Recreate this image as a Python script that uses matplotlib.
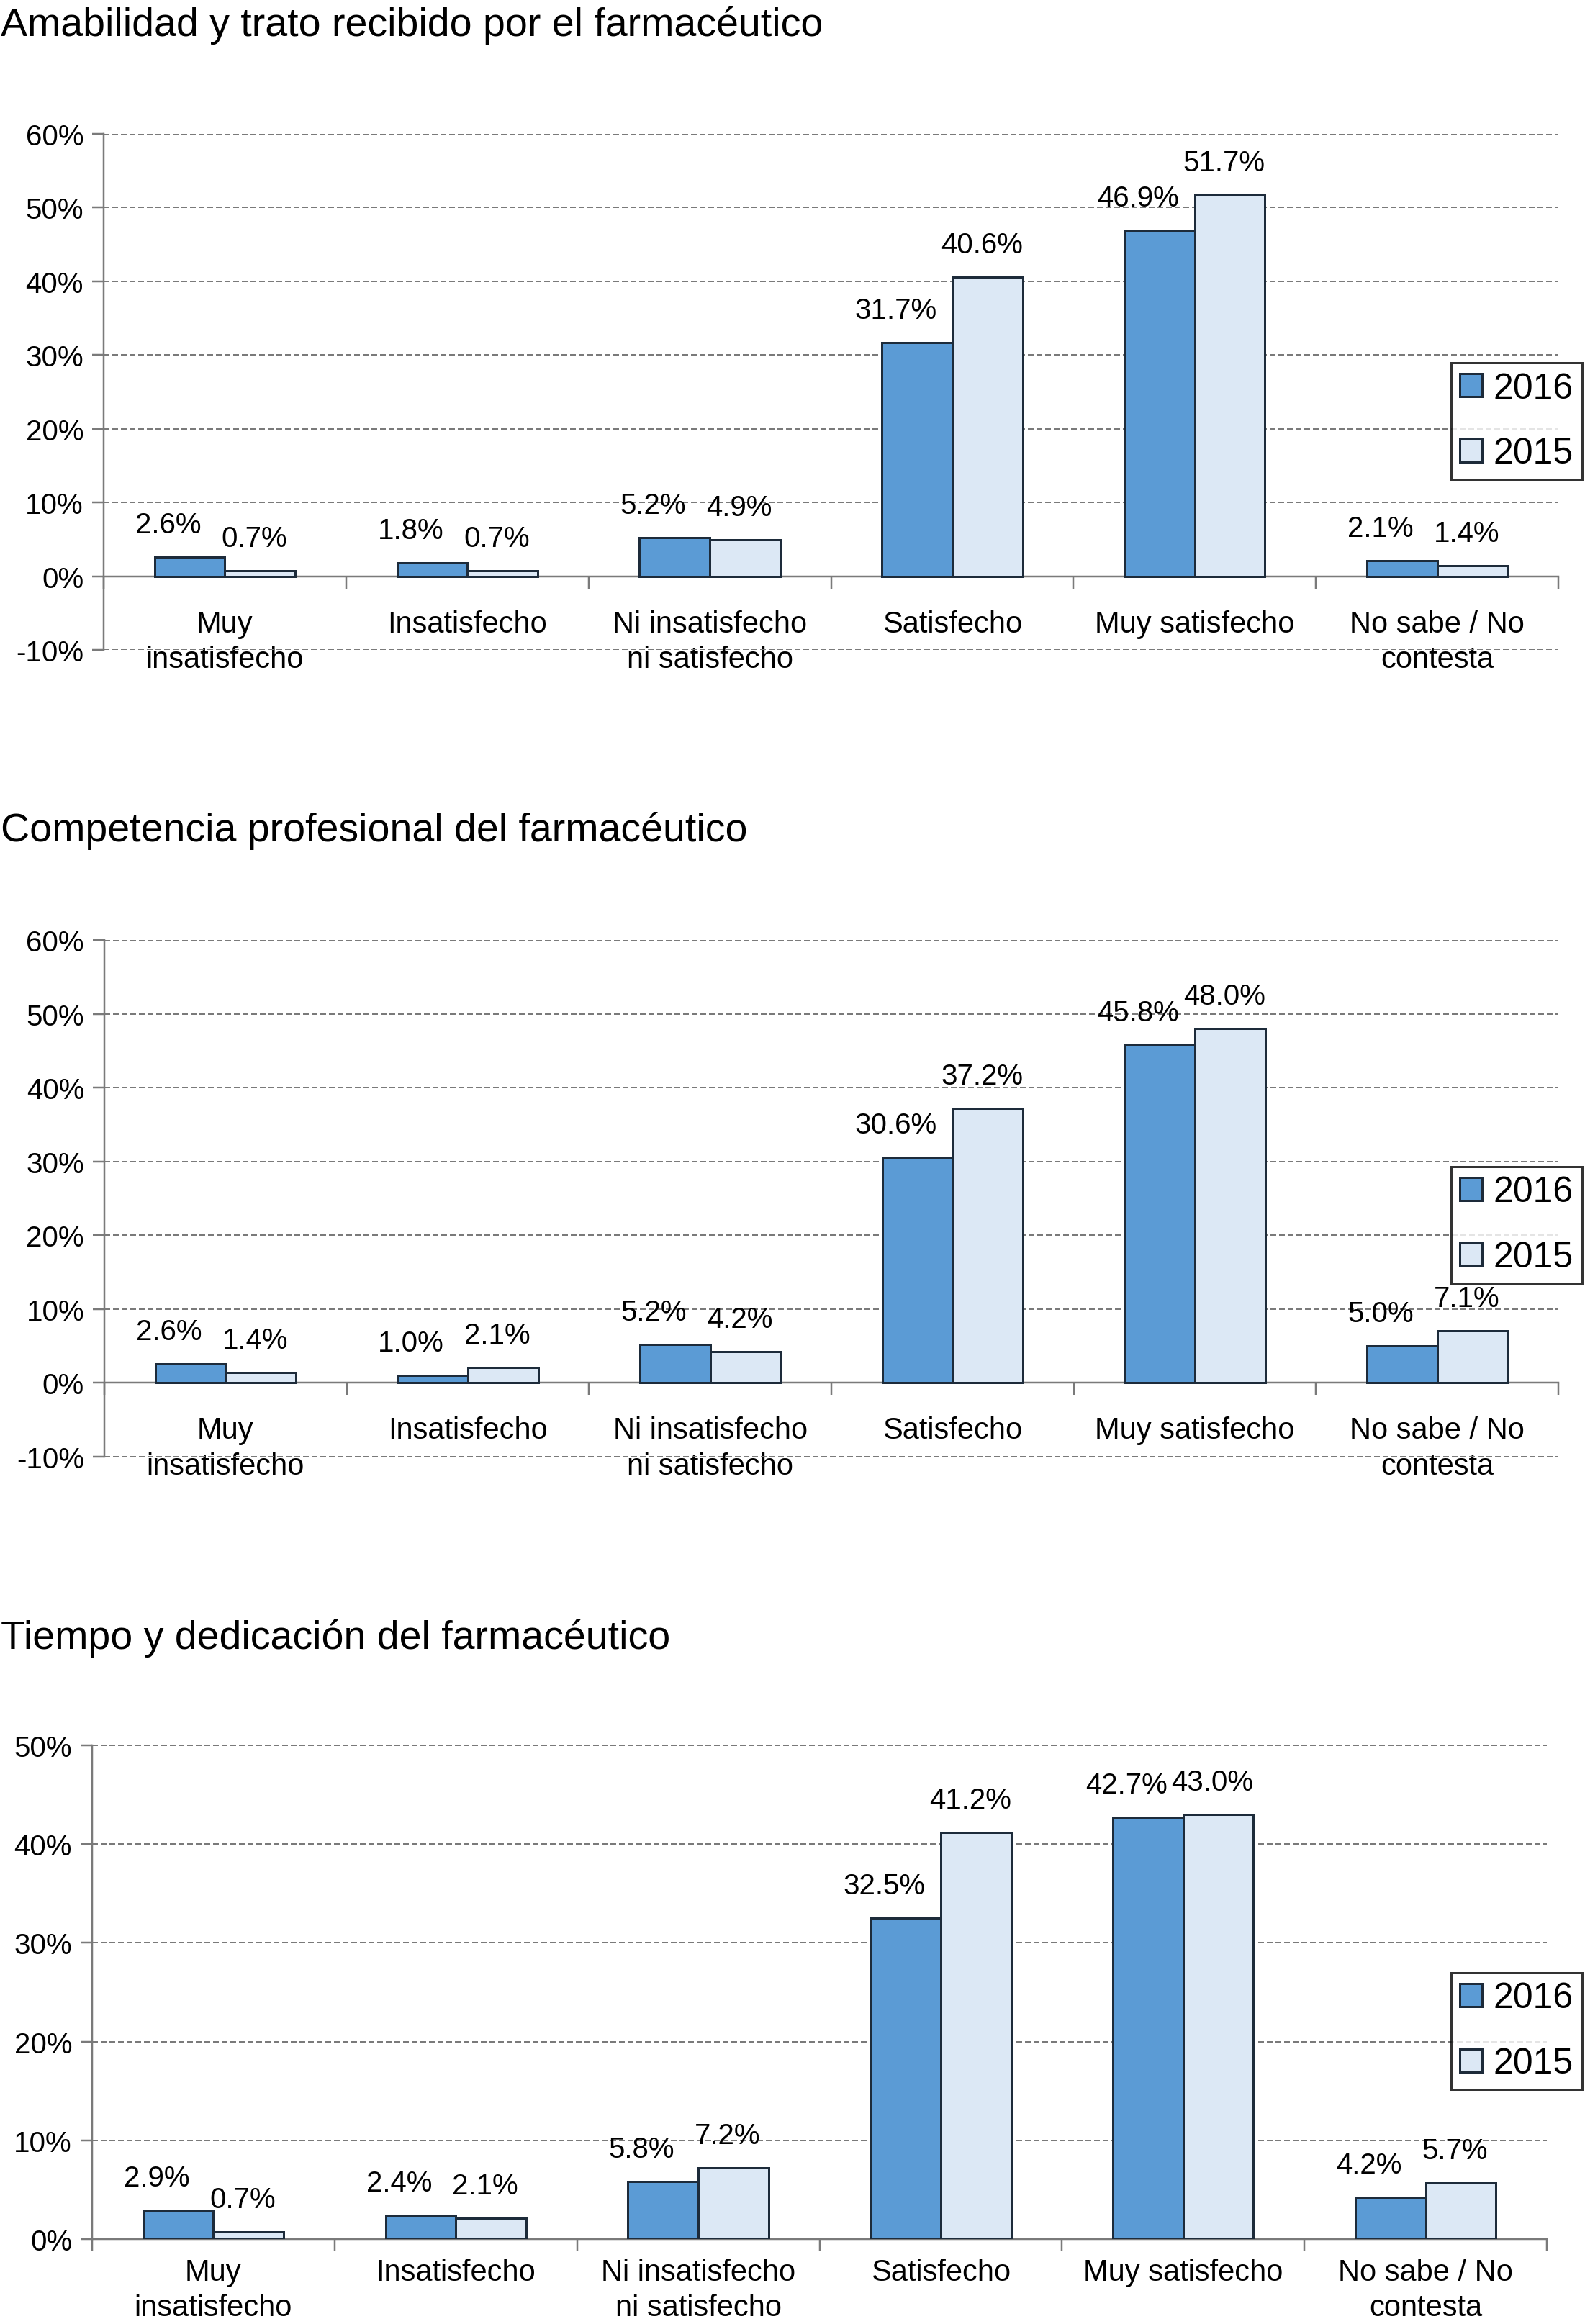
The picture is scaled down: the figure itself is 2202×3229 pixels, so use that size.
import numpy as np
import matplotlib
matplotlib.use('Agg')
import matplotlib.pyplot as plt
from matplotlib.ticker import MultipleLocator, FixedLocator

plt.rcParams['font.family'] = ['Liberation Sans', 'DejaVu Sans']

# Data
categories = ['Muy\ninsatisfecho', 'Insatisfecho', 'Ni insatisfecho\nni satisfecho',
              'Satisfecho', 'Muy satisfecho', 'No sabe / No\ncontesta']
titles = ['Amabilidad y trato recibido por el farmacéutico',
          'Competencia profesional del farmacéutico',
          'Tiempo y dedicación del farmacéutico']
series_names = ['2016', '2015']

amabilidad_2016 = [2.6, 1.8, 5.2, 31.7, 46.9, 2.1]
amabilidad_2015 = [0.7, 0.7, 4.9, 40.6, 51.7, 1.4]
competencia_2016 = [2.6, 1.0, 5.2, 30.6, 45.8, 5.0]
competencia_2015 = [1.4, 2.1, 4.2, 37.2, 48.0, 7.1]
tiempo_2016 = [2.9, 2.4, 5.8, 32.5, 42.7, 4.2]
tiempo_2015 = [0.7, 2.1, 7.2, 41.2, 43.0, 5.7]

panels = [(amabilidad_2016, amabilidad_2015, (-10, 60)),
          (competencia_2016, competencia_2015, (-10, 60)),
          (tiempo_2016, tiempo_2015, (0, 50))]

# Layout (pixels in a 2202x3230 canvas)
W, H = 2202, 3230
DPI = 100
axes_px = [(144, 2165, 187, 904), (145, 2165, 1307, 2025), (128, 2149, 2426, 3112)]
title_base_px = [50, 1169, 2291]
legend_top_px = [505, 1622, 2742]
xlabel_pad_px = [46, 46, 26]

color_2016 = '#5b9bd5'
color_2015 = '#dce8f5'
edge = '#1d2b3a'
gray = '#7a7a7a'
px = 72.0 / DPI  # points per pixel

fig = plt.figure(figsize=(W / DPI, H / DPI), dpi=DPI)

for i, (v16, v15, ylim) in enumerate(panels):
    l, r, t, b = axes_px[i]
    ax = fig.add_axes([l / W, 1 - b / H, (r - l) / W, (b - t) / H])
    x = np.arange(len(categories)) + 0.5
    w = 0.29
    b16 = ax.bar(x - w / 2, v16, w, color=color_2016, edgecolor=edge, linewidth=3 * px,
                 label=series_names[0], zorder=3)
    b15 = ax.bar(x + w / 2, v15, w, color=color_2015, edgecolor=edge, linewidth=3 * px,
                 label=series_names[1], zorder=3)

    # value labels
    for bars, dx in ((b16, -30), (b15, -8)):
        for rect in bars:
            h = rect.get_height()
            ax.annotate(f'{h:.1f}%', (rect.get_x() + rect.get_width() / 2, h),
                        xytext=(dx * px, 34 * px), textcoords='offset points',
                        ha='center', va='baseline', fontsize=29, zorder=4)

    ax.set_xlim(0, len(categories))
    ax.set_ylim(*ylim)
    ax.yaxis.set_major_locator(MultipleLocator(10))
    ax.set_yticklabels([f'{int(v)}%' for v in ax.get_yticks()])
    ax.grid(axis='y', color=gray, linestyle=(0, (4, 2)), linewidth=2 * px)
    ax.set_axisbelow(True)

    for s in ('top', 'right'):
        ax.spines[s].set_visible(False)
    ax.spines['bottom'].set_position(('data', 0))
    for s in ('left', 'bottom'):
        ax.spines[s].set_color(gray)
        ax.spines[s].set_linewidth(2.5 * px)

    ax.xaxis.set_major_locator(FixedLocator(x))
    ax.set_xticklabels(categories, linespacing=1.3)
    ax.xaxis.set_minor_locator(FixedLocator(np.arange(len(categories) + 1)))
    ax.tick_params(axis='x', which='major', length=0, pad=xlabel_pad_px[i] * px, labelsize=30)
    ax.tick_params(axis='x', which='minor', length=17 * px, width=2.5 * px, color=gray, direction='out')
    ax.tick_params(axis='y', length=16 * px, width=2.5 * px, color=gray, pad=12 * px, labelsize=29)

    fig.text(1 / W, 1 - title_base_px[i] / H, titles[i], fontsize=40, va='baseline', ha='left')

    leg = ax.legend(loc='upper right', bbox_to_anchor=(2198 / W, 1 - legend_top_px[i] / H),
                    bbox_transform=fig.transFigure, fontsize=36, frameon=True, fancybox=False,
                    borderaxespad=0, borderpad=0.25, labelspacing=0.9, handlelength=0.62,
                    handleheight=0.62, handletextpad=0.3)
    leg.get_frame().set_edgecolor('black')
    leg.get_frame().set_linewidth(3 * px)
    leg.set_zorder(5)

fig.savefig('out.png', dpi=DPI, facecolor='white')
